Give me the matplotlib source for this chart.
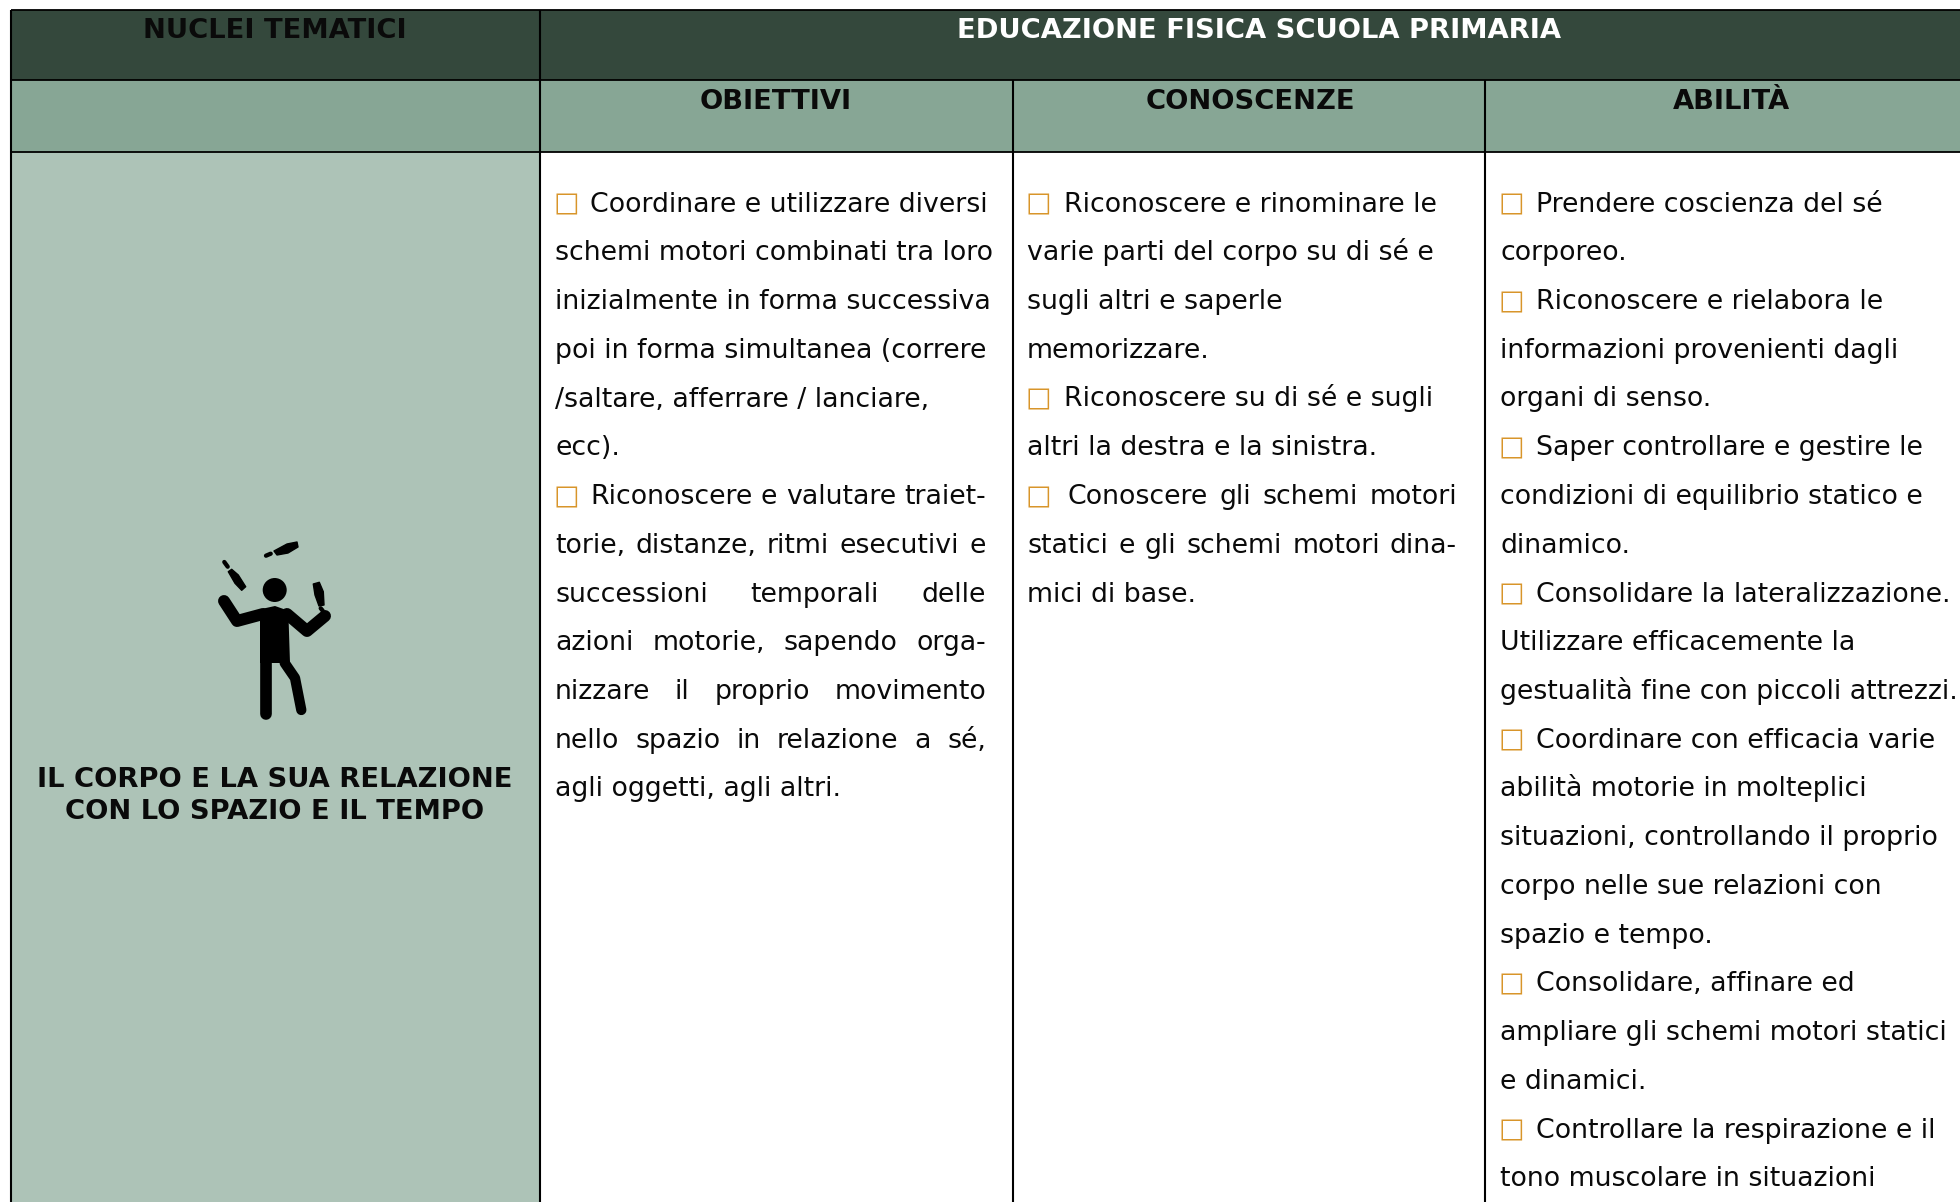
"""Recreate the 'Educazione fisica scuola primaria' curriculum table."""

import matplotlib
matplotlib.use("Agg")
import matplotlib.pyplot as plt
from matplotlib.patches import Circle, Polygon, Rectangle

W, H = 1960, 1202
DPI = 100

DARK = "#34483c"
MID = "#87a695"
LIGHT = "#adc3b7"
ORANGE = "#d8952a"
INK = "#0a0a0a"

NUCLEI_HEAD = "NUCLEI TEMATICI"
SUBJECT_HEAD = "EDUCAZIONE FISICA SCUOLA PRIMARIA"
COL_HEADS = ["OBIETTIVI", "CONOSCENZE", "ABILITÀ"]
NUCLEO = ["IL CORPO E LA SUA RELAZIONE", "CON LO SPAZIO E IL TEMPO"]

# each line: (text, starts with a bullet, justified)
OBIETTIVI = [
    ("Coordinare e utilizzare diversi", True, False),
    ("schemi motori combinati tra loro", False, False),
    ("inizialmente in forma successiva", False, False),
    ("poi in forma simultanea (correre", False, False),
    ("/saltare, afferrare / lanciare,", False, False),
    ("ecc).", False, False),
    ("Riconoscere e valutare traiet-", True, True),
    ("torie, distanze, ritmi esecutivi e", False, True),
    ("successioni temporali delle", False, True),
    ("azioni motorie, sapendo orga-", False, True),
    ("nizzare il proprio movimento", False, True),
    ("nello spazio in relazione a sé,", False, True),
    ("agli oggetti, agli altri.", False, False),
]
CONOSCENZE = [
    ("Riconoscere e rinominare le", True, False),
    ("varie parti del corpo su di sé e", False, False),
    ("sugli altri e saperle", False, False),
    ("memorizzare.", False, False),
    ("Riconoscere su di sé e sugli", True, False),
    ("altri la destra e la sinistra.", False, False),
    ("Conoscere gli schemi motori", True, True),
    ("statici e gli schemi motori dina-", False, True),
    ("mici di base.", False, False),
]
ABILITA = [
    ("Prendere coscienza del sé", True, False),
    ("corporeo.", False, False),
    ("Riconoscere e rielabora le", True, False),
    ("informazioni provenienti dagli", False, False),
    ("organi di senso.", False, False),
    ("Saper controllare e gestire le", True, False),
    ("condizioni di equilibrio statico e", False, False),
    ("dinamico.", False, False),
    ("Consolidare la lateralizzazione.", True, False),
    ("Utilizzare efficacemente la", False, False),
    ("gestualità fine con piccoli attrezzi.", False, False),
    ("Coordinare con efficacia varie", True, False),
    ("abilità motorie in molteplici", False, False),
    ("situazioni, controllando il proprio", False, False),
    ("corpo nelle sue relazioni con", False, False),
    ("spazio e tempo.", False, False),
    ("Consolidare, affinare ed", True, False),
    ("ampliare gli schemi motori statici", False, False),
    ("e dinamici.", False, False),
    ("Controllare la respirazione e il", True, False),
    ("tono muscolare in situazioni", False, False),
]

# table grid, in pixels
X_LEFT, X_C1, X_C2, X_C3 = 11, 540, 1013, 1485
Y_TOP, Y_R1, Y_R2 = 9.5, 80, 152

BODY_PX = 26.8
HEAD_PX = 27.4
FIRST_BASE = 211.5
PITCH = 48.75


def px(size):
    return size * 72 / DPI


fig = plt.figure(figsize=(W / DPI, H / DPI), dpi=DPI)
ax = fig.add_axes([0, 0, 1, 1])
ax.set_xlim(0, W)
ax.set_ylim(H, 0)
ax.axis("off")
renderer = fig.canvas.get_renderer()

ax.add_patch(Rectangle((X_LEFT, Y_TOP), W - X_LEFT, Y_R1 - Y_TOP, color=DARK, lw=0))
ax.add_patch(Rectangle((X_LEFT, Y_R1), W - X_LEFT, Y_R2 - Y_R1, color=MID, lw=0))
ax.add_patch(Rectangle((X_LEFT, Y_R2), X_C1 - X_LEFT, H - Y_R2, color=LIGHT, lw=0))

for x, y0 in [(X_LEFT, Y_TOP), (X_C1, Y_TOP), (X_C2, Y_R1), (X_C3, Y_R1)]:
    ax.plot([x, x], [y0, H], color="black", lw=1.5, solid_capstyle="butt")
for y in (Y_TOP, Y_R1, Y_R2):
    ax.plot([X_LEFT, W], [y, y], color="black", lw=1.3, solid_capstyle="butt")


def bold(x, y, s, color=INK):
    ax.text(x, y, s, ha="center", va="baseline", fontsize=px(HEAD_PX), fontweight="bold",
            color=color, family="DejaVu Sans")


bold(275, 38, NUCLEI_HEAD)
bold(1259, 38, SUBJECT_HEAD, "white")
for cx, s in zip([776, 1250, 1731], COL_HEADS):
    bold(cx, 109, s)
bold(275, 787, NUCLEO[0])
bold(275, 819, NUCLEO[1])


def width(s):
    t = ax.text(0, 0, s, fontsize=px(BODY_PX), family="DejaVu Sans")
    w = t.get_window_extent(renderer).width
    t.remove()
    return w


def put(x, y, s):
    ax.text(x, y, s, ha="left", va="baseline", fontsize=px(BODY_PX), color=INK,
            family="DejaVu Sans")


def draw_column(lines, x_text, x_bullet_text, x_right):
    space = width("a a") - width("aa")
    for i, (s, bullet, justified) in enumerate(lines):
        y = FIRST_BASE + PITCH * i
        x = x_text
        if bullet:
            ax.text(x_text - 1.5, y, "□", ha="left", va="baseline", fontsize=px(27),
                    color=ORANGE, family="DejaVu Sans")
            x = x_bullet_text
        if justified:
            words = s.split(" ")
            widths = [width(w) for w in words]
            # the space after the bullet stretches like the others
            n_gaps = len(words) - 1 + int(bullet)
            extra = (x_right - x - sum(widths) - space * (len(words) - 1)) / n_gaps
            if bullet:
                x += extra
            for w, ww in zip(words, widths):
                put(x, y, w)
                x += ww + space + extra
        else:
            put(x, y, s)


draw_column(OBIETTIVI, 555, 590, 986)
draw_column(CONOSCENZE, 1027, 1064, 1457)
draw_column(ABILITA, 1500, 1536, 1950)

# juggler pictogram, drawn in the pixel space of the table
ARM_L = [(224, 601), (237, 621), (263, 614)]
ARM_R = [(325, 616), (307, 631), (287, 614)]
LEG_L = [(266, 663), (266, 714)]
LEG_R = [(284.7, 663), (295, 678), (301.3, 710)]
TORSO = [(260, 609.3), (275, 606), (288.3, 610.7), (290, 663), (260, 663)]
CLUBS = [
    [(228.3, 571.7), (231.7, 569.3), (238.3, 575), (245.7, 586.7), (241.7, 590.3), (235, 583.3)],
    [(274, 551), (287, 544), (297, 542), (298, 547), (288, 553), (277, 555)],
    [(313.3, 584), (319.3, 582.3), (323.3, 591.7), (324, 605), (319, 606), (315, 595)],
]
HANDLES = [[(224.3, 562), (227.7, 566.7)], [(266, 555.7), (270.7, 553.7)], [(320.7, 608.3), (322.7, 610.7)]]

for pts, lw in [(ARM_L, 8.6), (ARM_R, 8.6), (LEG_L, 8.4), (LEG_R, 7.4)]:
    ax.plot(*zip(*pts), color="black", lw=lw, solid_capstyle="round", solid_joinstyle="round")
ax.add_patch(Polygon(TORSO, closed=True, color="black", lw=0))
ax.add_patch(Circle((274.7, 590), 12, color="black", lw=0))
for pts in CLUBS:
    ax.add_patch(Polygon(pts, closed=True, color="black", lw=1, joinstyle="round"))
for pts in HANDLES:
    ax.plot(*zip(*pts), color="black", lw=3.1, solid_capstyle="round")

fig.savefig("out.png", dpi=DPI)
